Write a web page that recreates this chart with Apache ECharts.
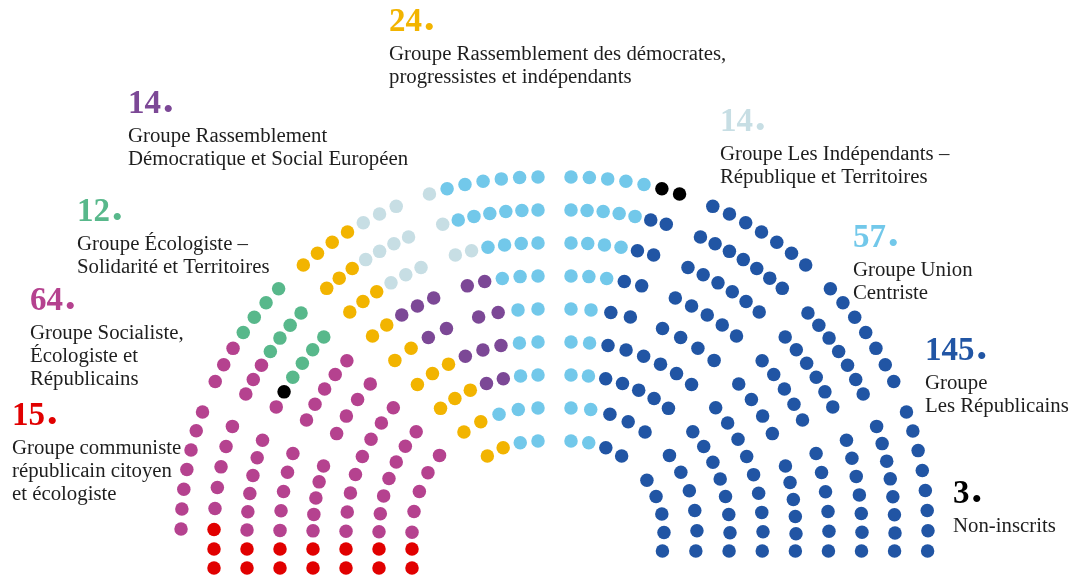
<!DOCTYPE html>
<html>
<head>
<meta charset="utf-8">
<title>Sénat - composition par groupe</title>
<script src="https://cdn.jsdelivr.net/npm/echarts@6/dist/echarts.min.js"></script>
<style>
  html, body { margin: 0; padding: 0; background: #fff; }
  #chart { width: 1073px; height: 577px; }
</style>
</head>
<body>
<div id="chart"></div>
<script>
// groupes, de gauche a droite
var groupKeys = ['CRCE', 'SER', 'GEST', 'RDSE', 'RDPI', 'LIRT', 'UC', 'LR', 'NI'];
var groupSeats = [15, 64, 12, 14, 24, 14, 57, 145, 3];
var groupColors = ['#e10000', '#b5428f', '#58b88b', '#7c4896', '#f2b400', '#c7dee4', '#72c8ea', '#2155a4', '#000000'];
var groupNames = [
    ['Groupe communiste', 'républicain citoyen', 'et écologiste'],
    ['Groupe Socialiste,', 'Écologiste et', 'Républicains'],
    ['Groupe Écologiste –', 'Solidarité et Territoires'],
    ['Groupe Rassemblement', 'Démocratique et Social Européen'],
    ['Groupe Rassemblement des démocrates,', 'progressistes et indépendants'],
    ['Groupe Les Indépendants –', 'République et Territoires'],
    ['Groupe Union', 'Centriste'],
    ['Groupe', 'Les Républicains'],
    ['Non-inscrits']
];

// plan de l'hemicycle, rang par rang (exterieur -> interieur)
// chaque travee : [groupe, nb sieges] en partant du centre
var planLeft = [
    [[['UC', 6], ['LIRT', 1]], [['LIRT', 3], ['RDPI', 4]], [['GEST', 4], ['SER', 3]], [['SER', 7]]],
    [[['UC', 6], ['LIRT', 1]], [['LIRT', 4], ['RDPI', 3]], [['GEST', 4], ['SER', 3]], [['SER', 5], ['CRCE', 1]]],
    [[['UC', 4], ['LIRT', 2]], [['LIRT', 3], ['RDPI', 3]], [['GEST', 4], ['NI', 1], ['SER', 1]], [['SER', 6]]],
    [[['UC', 3], ['RDSE', 2]], [['RDSE', 3], ['RDPI', 2]], [['SER', 5]], [['SER', 5]]],
    [[['UC', 2], ['RDSE', 2]], [['RDSE', 2], ['RDPI', 2]], [['SER', 4]], [['SER', 5]]],
    [[['UC', 2], ['RDSE', 3], ['RDPI', 3]], [['SER', 8]]],
    [[['UC', 2], ['RDSE', 2], ['RDPI', 3]], [['SER', 7]]],
    [[['UC', 3], ['RDPI', 2]], [['SER', 5]]],
    [[['UC', 2], ['RDPI', 2]], []]
];
// sieges du bas a gauche (sous l'hemicycle)
var tailLeft = [[], [['CRCE', 2]], [['CRCE', 2]], [['CRCE', 2]], [['CRCE', 2]], [['CRCE', 2]], [['CRCE', 2]], [['CRCE', 2]], []];
var planRight = [
    [[['UC', 5], ['NI', 2]], [['LR', 7]], [['LR', 7]], [['LR', 8]]],
    [[['UC', 5], ['LR', 2]], [['LR', 7]], [['LR', 7]], [['LR', 8]]],
    [[['UC', 4], ['LR', 2]], [['LR', 6]], [['LR', 6]], [['LR', 7]]],
    [[['UC', 3], ['LR', 2]], [['LR', 5]], [['LR', 5]], [['LR', 6]]],
    [[['UC', 2], ['LR', 2]], [['LR', 4]], [['LR', 4]], [['LR', 6]]],
    [[['UC', 2], ['LR', 6]], [['LR', 9]]],
    [[['UC', 2], ['LR', 5]], [['LR', 8]]],
    [[['UC', 2], ['LR', 3]], [['LR', 6]]],
    [[['UC', 2], ['LR', 2]], [['LR', 5]]]
];

// ---- geometrie ----
var CY = 534, CX_L = 538, CX_R = 571, R_OUT = 357, ROW_GAP = 33;
var innerAB = [51.1, 52.2, 54, 57], innerCD = [41.1, 40, 38.6, 35.3];
function blockLimits(k) {
    if (k < 5) {
        return [[90, 72.3 + 0.6 * k], [66.6 - 0.15 * k, 48.9 + 0.4 * k],
                [43.4 - 0.4 * k, 25.3 + 0.3 * k], [20 - 0.6 * k, null]];
    }
    return [[90, innerAB[k - 5]], [innerCD[k - 5], null]];
}

function buildSeats() {
    var pos = {};
    groupKeys.forEach(function (g) { pos[g] = []; });
    function place(side, r, a0, a1, runs) {
        var n = 0, i = 0;
        runs.forEach(function (run) { n += run[1]; });
        var cx = side > 0 ? CX_R : CX_L;
        runs.forEach(function (run) {
            for (var j = 0; j < run[1]; j++, i++) {
                var a = (n > 1 ? a0 + (a1 - a0) * i / (n - 1) : a0) * Math.PI / 180;
                pos[run[0]].push([cx + side * r * Math.cos(a), CY - r * Math.sin(a)]);
            }
        });
    }
    [[-1, planLeft], [1, planRight]].forEach(function (h) {
        var side = h[0];
        h[1].forEach(function (ring, k) {
            var r = R_OUT - ROW_GAP * k;
            var lim = blockLimits(k);
            ring.forEach(function (runs, b) {
                if (!runs.length) return;
                var end = lim[b][1];
                if (end === null) end = side > 0 ? -Math.asin(17 / r) * 180 / Math.PI : 0.8;
                place(side, r, lim[b][0], end, runs);
            });
            if (side < 0) {
                var t = 0;
                tailLeft[k].forEach(function (run) {
                    for (var j = 0; j < run[1]; j++, t++) pos[run[0]].push([CX_L - r, CY + 15 + 19 * t]);
                });
            }
        });
    });
    return pos;
}
var seats = buildSeats();
groupKeys.forEach(function (g, i) {
    if (seats[g].length !== groupSeats[i]) console.warn(g, seats[g].length, groupSeats[i]);
});

// position des etiquettes : x, centre vertical du chiffre
var labelAt = {
    CRCE: [12, 416], SER: [30, 301], GEST: [77, 212], RDSE: [128, 104], RDPI: [389, 22],
    LIRT: [720, 122], UC: [853, 238], LR: [925, 351], NI: [953, 494]
};
var serif = '"Liberation Serif", "DejaVu Serif", serif';

var graphics = [];
groupKeys.forEach(function (g, i) {
    var p = labelAt[g];
    graphics.push({
        type: 'text', x: p[0], y: p[1],
        style: {
            text: '{n|' + groupSeats[i] + '}{d|•}',
            verticalAlign: 'middle', align: 'left',
            rich: {
                n: { fontFamily: serif, fontSize: 33, fontWeight: 'bold', fill: groupColors[i], color: groupColors[i] },
                d: { fontFamily: serif, fontSize: 30, fill: groupColors[i], color: groupColors[i], padding: [14, 0, 0, 2] }
            }
        }
    });
    graphics.push({
        type: 'text', x: p[0], y: p[1] + 21,
        style: {
            text: groupNames[i].join('\n'),
            fontFamily: serif, fontSize: 20.8, lineHeight: 23,
            fill: '#1e1e1e', align: 'left', verticalAlign: 'top'
        }
    });
});

var chart = echarts.init(document.getElementById('chart'));
chart.setOption({
    animation: false,
    grid: { left: 0, right: 0, top: 0, bottom: 0 },
    xAxis: { type: 'value', min: 0, max: 1073, show: false },
    yAxis: { type: 'value', min: 0, max: 577, inverse: true, show: false },
    series: groupKeys.map(function (g, i) {
        return {
            name: g, type: 'scatter', symbolSize: 13.5,
            itemStyle: { color: groupColors[i], opacity: 1 },
            data: seats[g], silent: true
        };
    }),
    graphic: graphics
});
</script>
</body>
</html>
